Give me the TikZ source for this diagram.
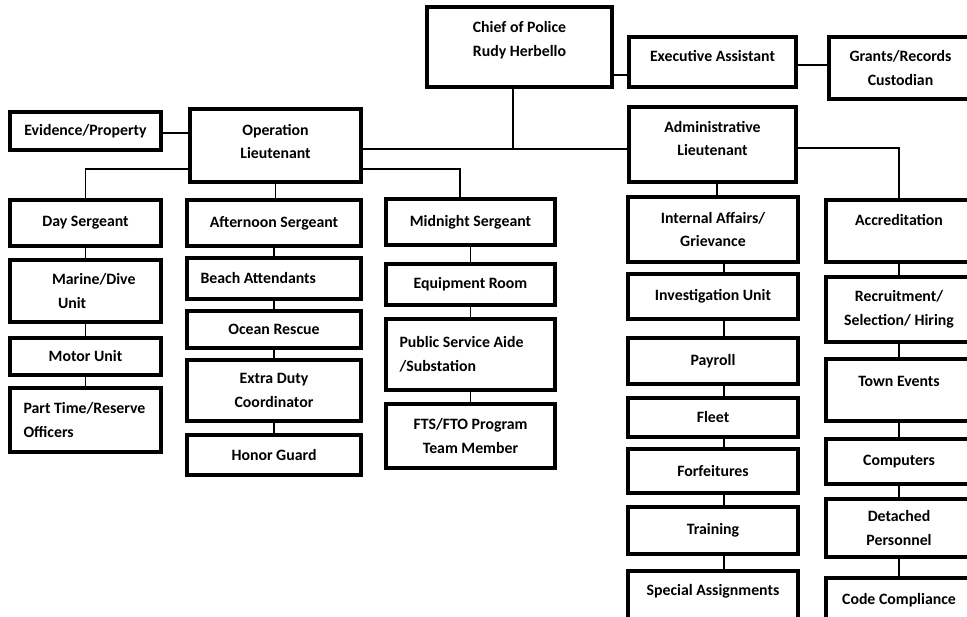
\documentclass[tikz,border=0pt]{standalone}
\usepackage{fontspec}
\setmainfont{Carlito}

\begin{document}
\begin{tikzpicture}[
    x=0.02cm, y=-0.02cm,
    unit/.style={
        draw,
        line width=1.9pt,
        font=\bfseries\fontsize{9}{13.6}\selectfont,
        align=center,
        inner xsep=2pt,
        inner ysep=1pt
    },
    lft/.style={align=flush left, inner xsep=0.27cm, text width=#1},
    lbl/.style={font=\bfseries\fontsize{9}{13.6}\selectfont, align=center, inner sep=0pt},
    link/.style={line width=0.75pt},
    trunk/.style={line width=1.2pt}
]
\useasboundingbox (0,0) rectangle (967,617);

% Top
\node[unit, minimum width=3.70cm, minimum height=1.60cm,
      label={[name=chiefT, lbl, yshift=0.14cm]center:{Chief of Police\\Rudy Herbello}}] (chief) at (519.5,47) {};
\node[unit, minimum width=3.34cm, minimum height=1.00cm,
      label={[name=execT, lbl, yshift=0.12cm]center:Executive Assistant}] (exec) at (712.5,62) {};
\node[unit, minimum width=2.86cm, minimum height=1.24cm] (grants) at (900.5,68) {Grants/Records\\Custodian};

% Lieutenants
\node[unit, minimum width=3.02cm, minimum height=0.76cm] (evid) at (85.5,131) {Evidence/Property};
\node[unit, minimum width=3.42cm, minimum height=1.46cm,
      label={[name=opLtT, lbl, yshift=0.08cm]center:{Operation\\Lieutenant}}] (opLt) at (275.5,145.5) {};
\node[unit, minimum width=3.34cm, minimum height=1.50cm,
      label={[name=admLtT, lbl, yshift=0.12cm]center:{Administrative\\Lieutenant}}] (admLt) at (712.5,144.5) {};

% Day shift
\node[unit, minimum width=3.02cm, minimum height=0.92cm] (dayS) at (85.5,223) {Day Sergeant};
\node[unit, lft=2.3cm, inner xsep=0.36cm, minimum height=1.24cm] (marine) at (85.5,291)
     {\hspace*{0.48cm}\mbox{Marine/Dive}\\\hspace*{0.60cm}Unit};
\node[unit, minimum width=3.02cm, minimum height=0.74cm] (motor) at (85.5,356.5) {Motor Unit};
\node[unit, lft=2.48cm, minimum height=1.28cm] (partT) at (85.5,420) {Part Time/Reserve\\Officers};

% Afternoon shift
\node[unit, minimum width=3.48cm, minimum height=0.92cm] (aftS) at (274,223) {Afternoon Sergeant};
\node[unit, lft=2.94cm, minimum height=0.82cm] (beach) at (274,278.5) {Beach Attendants};
\node[unit, minimum width=3.48cm, minimum height=0.74cm] (ocean) at (274,329.5) {Ocean Rescue};
\node[unit, minimum width=3.48cm, minimum height=1.22cm] (extra) at (274,390.5) {Extra Duty\\Coordinator};
\node[unit, minimum width=3.48cm, minimum height=0.80cm] (honor) at (274,455) {Honor Guard};

% Midnight shift
\node[unit, minimum width=3.38cm, minimum height=0.92cm] (midS) at (470.5,222) {Midnight Sergeant};
\node[unit, minimum width=3.38cm, minimum height=0.82cm] (equip) at (470.5,284.5) {Equipment Room};
\node[unit, lft=2.84cm, minimum height=1.42cm] (psa) at (470.5,354.5) {Public Service Aide\\/Substation};
\node[unit, minimum width=3.38cm, minimum height=1.28cm] (fts) at (470.5,436) {FTS/FTO Program\\Team Member};

% Administration, first column
\node[unit, minimum width=3.40cm, minimum height=1.30cm] (ia) at (713,229.5) {Internal Affairs/\\Grievance};
\node[unit, minimum width=3.40cm, minimum height=0.90cm] (inv) at (713,296.5) {Investigation Unit};
\node[unit, minimum width=3.40cm, minimum height=0.92cm] (pay) at (713,361) {Payroll};
\node[unit, minimum width=3.40cm, minimum height=0.78cm] (fleet) at (713,417.5) {Fleet};
\node[unit, minimum width=3.40cm, minimum height=0.88cm] (forf) at (713,471) {Forfeitures};
\node[unit, minimum width=3.40cm, minimum height=0.94cm] (train) at (713,530.5) {Training};
\node[unit, minimum width=3.40cm, minimum height=1.02cm,
      label={[name=specT, lbl, yshift=0.10cm]center:Special Assignments}] (spec) at (713,596.5) {};

% Administration, second column
\node[unit, minimum width=2.92cm, minimum height=1.24cm,
      label={[name=accrT, lbl, yshift=0.22cm]center:Accreditation}] (accr) at (899,231) {};
\node[unit, minimum width=2.92cm, minimum height=1.30cm] (recr) at (899,309.5) {Recruitment/\\Selection/ Hiring};
\node[unit, minimum width=2.92cm, minimum height=1.24cm,
      label={[name=townT, lbl, yshift=0.18cm]center:Town Events}] (town) at (899,390) {};
\node[unit, minimum width=2.92cm, minimum height=0.90cm] (comp) at (899,461.5) {Computers};
\node[unit, minimum width=2.92cm, minimum height=1.16cm] (det) at (899,528) {Detached\\Personnel};
\node[unit, minimum width=2.92cm, minimum height=0.88cm] (code) at (899,600) {Code Compliance};

% Chief and staff
\coordinate (hub) at (513,149);
\draw[trunk] (chief.south -| hub) -- (hub);
\draw[trunk] (opLt.east |- hub) -- (admLt.west |- hub);
\draw[link] (chief.east |- 0,75) -- (exec.west |- 0,75);
\draw[link] (exec.east |- 0,65) -- (grants.west |- 0,65);
\draw[link] (evid.east |- 0,133) -- (opLt.west |- 0,133);

% Operations
\draw[link] (opLt.west |- 0,169) -| (dayS.north);
\draw[link] (opLt.east |- 0,169) -| (midS.north -| 460,0);
\draw[link] (opLt.south) -- (opLt.south |- aftS.north);
\draw[link] (dayS.south) -- (marine.north);
\draw[link] (marine.south) -- (motor.north);
\draw[link] (motor.south) -- (partT.north);
\draw[link] (aftS.south) -- (beach.north);
\draw[link] (beach.south) -- (ocean.north);
\draw[link] (ocean.south) -- (extra.north);
\draw[link] (extra.south) -- (honor.north);
\draw[link] (midS.south) -- (equip.north);
\draw[link] (equip.south) -- (psa.north);
\draw[link] (psa.south) -- (fts.north);

% Administration
\draw[link] (admLt.south -| 717,0) -- (ia.north -| 717,0);
\draw[link] (admLt.east |- 0,148) -| (accr.north);
\draw[link] (ia.south -| 724,0) -- (inv.north -| 724,0);
\draw[link] (inv.south -| 724,0) -- (pay.north -| 724,0);
\draw[link] (pay.south -| 724,0) -- (fleet.north -| 724,0);
\draw[link] (fleet.south -| 724,0) -- (forf.north -| 724,0);
\draw[link] (forf.south -| 724,0) -- (train.north -| 724,0);
\draw[link] (train.south -| 724,0) -- (spec.north -| 724,0);
\draw[link] (accr.south) -- (recr.north);
\draw[link] (recr.south) -- (town.north);
\draw[link] (town.south) -- (comp.north);
\draw[link] (comp.south) -- (det.north);
\draw[link] (det.south) -- (code.north);

\end{tikzpicture}
\end{document}
